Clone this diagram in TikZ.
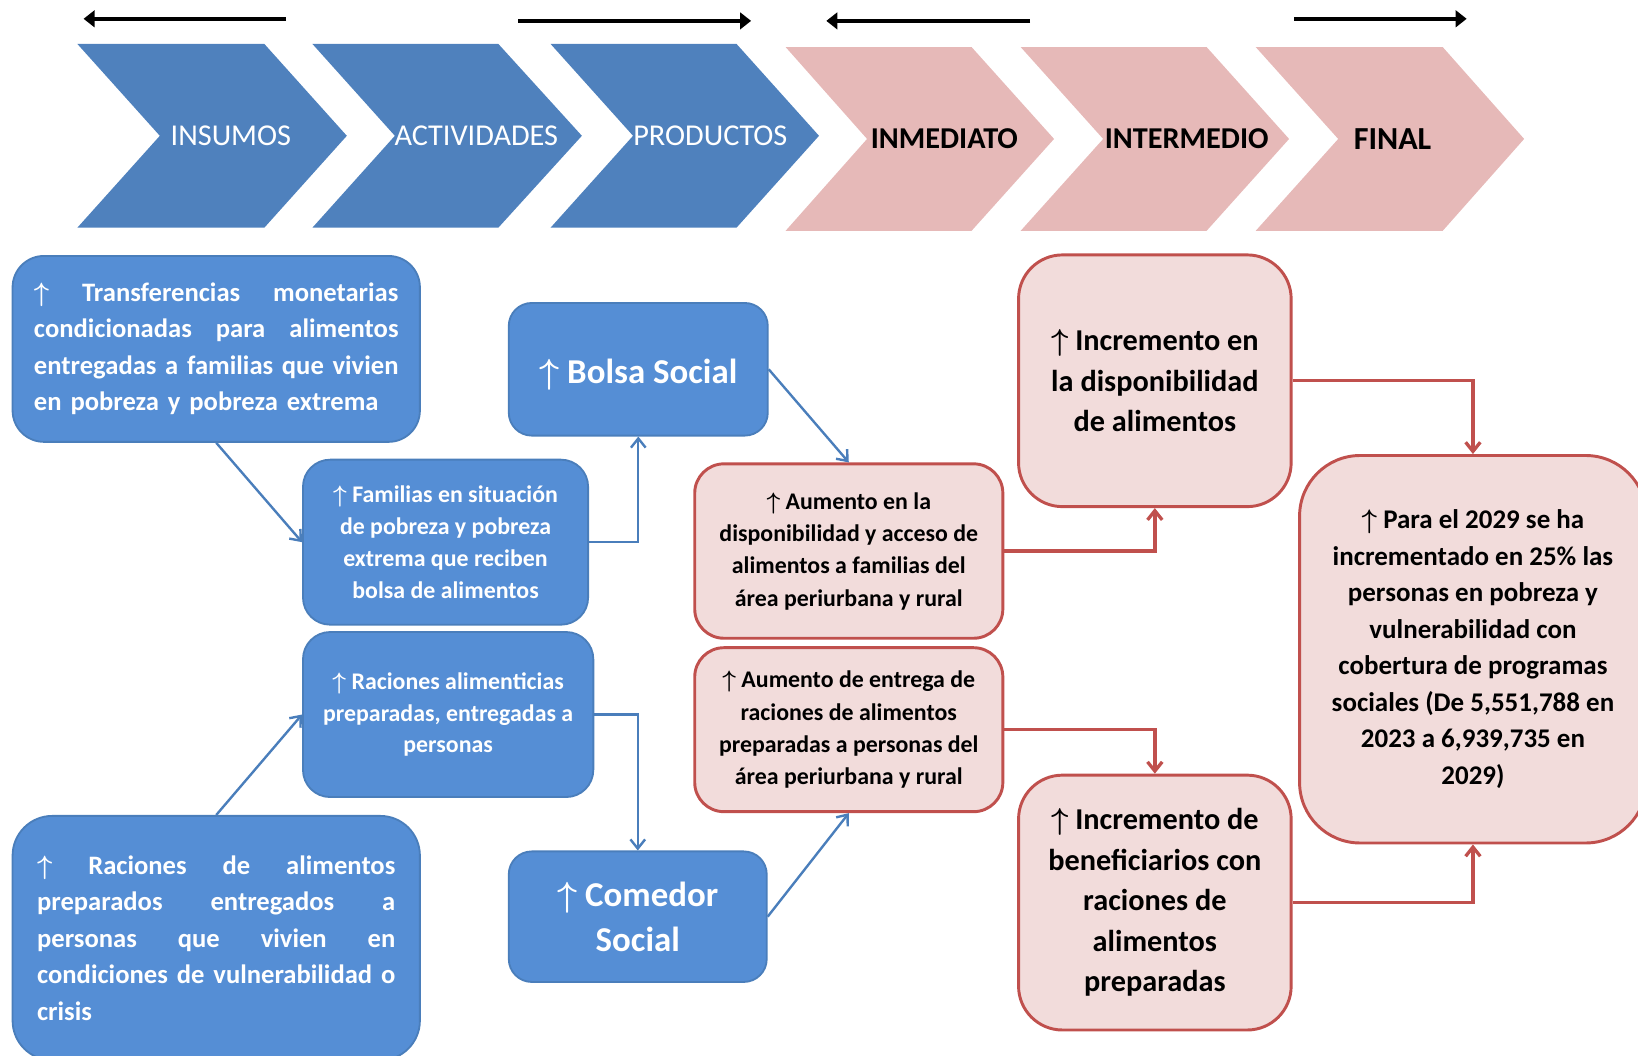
\RequirePackage{fix-cm}
\documentclass[tikz,border=0pt]{standalone}
\usepackage{fontspec}
\setmainfont{Carlito}
\usetikzlibrary{arrows.meta}

\definecolor{chevblue}{HTML}{4F81BD}
\definecolor{chevpink}{HTML}{E6B9B8}
\definecolor{boxblue}{HTML}{558ED5}
\definecolor{boxblueline}{HTML}{4A7EBB}
\definecolor{boxpink}{HTML}{F2DCDB}
\definecolor{boxred}{HTML}{C0504D}
\definecolor{linkblue}{HTML}{4A7EBB}

\newcommand{\fs}[2]{\fontsize{#1}{#2}\selectfont}
% justified line: words separated by \hfill
\newcommand{\jline}[2]{\leavevmode\hbox to #1{#2}}
\newcommand{\upmark}{{\boldmath$\uparrow$}}

\begin{document}
\begin{tikzpicture}[x=0.02cm, y=-0.02cm,
  bluebox/.style={draw=boxblueline, fill=boxblue, line width=1pt, text=white, inner sep=0pt, align=center},
  pinkbox/.style={draw=boxred, fill=boxpink, line width=1.6pt, text=black, inner sep=0pt, align=center},
  bluelink/.style={draw=linkblue, line width=1.3pt, -{Straight Barb[length=5pt,width=8pt]}},
  redlink/.style={draw=boxred, line width=1.8pt, -{Straight Barb[length=5pt,width=8pt]}},
  timeline/.style={line width=2.3pt, -{Triangle[length=6pt,width=9pt]}}]
\useasboundingbox (0,0) rectangle (1568,1010);

% direction arrows on top
\coordinate (t1a) at (274,18);  \coordinate (t1b) at (80,18);
\coordinate (t2a) at (496,20);  \coordinate (t2b) at (719,20);
\coordinate (t3a) at (986,20);  \coordinate (t3b) at (791,20);
\coordinate (t4a) at (1239,18); \coordinate (t4b) at (1404,18);
\draw [timeline] (t1a) -- (t1b);
\draw [timeline] (t2a) -- (t2b);
\draw [timeline] (t3a) -- (t3b);
\draw [timeline] (t4a) -- (t4b);

% chevrons
\fill [chevblue] (74,42) -- (253,42) -- (332,130) -- (253,218) -- (74,218) -- (153,130) -- cycle;
\fill [chevblue] (299,42) -- (477,42) -- (557,130) -- (477,218) -- (299,218) -- (378,130) -- cycle;
\fill [chevblue] (527,42) -- (705,42) -- (784,130) -- (705,218) -- (527,218) -- (606,130) -- cycle;
\fill [chevpink] (752,45) -- (930,45) -- (1009,133) -- (930,221) -- (752,221) -- (830,133) -- cycle;
\fill [chevpink] (977,45) -- (1155,45) -- (1234,133) -- (1155,221) -- (977,221) -- (1056,133) -- cycle;
\fill [chevpink] (1202,45) -- (1381,45) -- (1459,133) -- (1381,221) -- (1202,221) -- (1281,133) -- cycle;

\node [text=white, font=\fs{16.5}{20}] (insumos) at (221,130) {INSUMOS};
\node [text=white, font=\fs{16.5}{20}] (actividades) at (456,130) {ACTIVIDADES};
\node [text=white, font=\fs{16.5}{20}] (productos) at (680,130) {PRODUCTOS};
\node [font=\bfseries\fs{16.5}{20}] (inmediato) at (904,133) {INMEDIATO};
\node [font=\bfseries\fs{16.5}{20}] (intermedio) at (1136,133) {INTERMEDIO};
\node [font=\bfseries\fs{17.5}{20}] (final) at (1333,133) {FINAL};

% blue boxes
\node [bluebox, rounded corners=0.6cm, text width=6.98cm, inner xsep=0.41cm, minimum height=3.56cm, align=left, font=\bfseries\fs{14.5}{19.9}] (transfer) at (207,334)
  {\jline{6.98cm}{\upmark\hfill Transferencias\hfill monetarias}\\
   \jline{6.98cm}{condicionadas\hfill para\hfill alimentos}\\
   \jline{6.98cm}{entregadas\hfill a\hfill familias\hfill que\hfill vivien}\\
   en pobreza y pobreza extrema};
\node [bluebox, rounded corners=0.52cm, minimum width=5.46cm, minimum height=3.16cm, font=\bfseries\fs{13}{17.4}] (familias) at (426.5,519)
  {\upmark{} Familias en situación\\ de pobreza y pobreza\\ extrema que reciben\\ bolsa de alimentos};
\node [bluebox, rounded corners=0.44cm, minimum width=4.96cm, minimum height=2.54cm, font=\bfseries\fs{19}{23}] (bolsa) at (611,353.5)
  {\rule{0pt}{19pt}\upmark{} Bolsa Social};
\node [bluebox, rounded corners=0.52cm, minimum width=5.56cm, minimum height=3.16cm, font=\bfseries\fs{13}{17.4}] (racalim) at (429,684)
  {\upmark{} Raciones alimenticias\\ preparadas, entregadas a\\ personas};
\node [bluebox, rounded corners=0.76cm, text width=6.86cm, inner xsep=0.47cm, minimum height=4.68cm, align=left, font=\bfseries\fs{14.5}{19.9}] (racprep) at (207,898)
  {\jline{6.86cm}{\upmark\hfill Raciones\hfill de\hfill alimentos}\\
   \jline{6.86cm}{preparados\hfill entregados\hfill a}\\
   \jline{6.86cm}{personas\hfill que\hfill vivien\hfill en}\\
   \jline{6.86cm}{condiciones\hfill de\hfill vulnerabilidad\hfill o}\\
   crisis};
\node [bluebox, rounded corners=0.44cm, minimum width=4.94cm, minimum height=2.5cm, font=\bfseries\fs{19}{24.4}] (comedor) at (610.5,877.5)
  {\upmark{} Comedor\\ Social};

% pink boxes
\node [pinkbox, rounded corners=0.56cm, minimum width=5.9cm, minimum height=3.34cm, font=\bfseries\fs{13}{17.6}] (aumdisp) at (812.5,527.5)
  {\upmark{} Aumento en la\\ disponibilidad y acceso de\\ alimentos a familias del\\ área periurbana y rural};
\node [pinkbox, rounded corners=0.56cm, minimum width=5.9cm, minimum height=3.14cm, font=\bfseries\fs{13}{17.6}] (aument) at (812.5,698.5)
  {\upmark{} Aumento de entrega de\\ raciones de alimentos\\ preparadas a personas del\\ área periurbana y rural};
\node [pinkbox, rounded corners=0.84cm, minimum width=5.22cm, minimum height=4.82cm, font=\bfseries\fs{16.5}{22.1}] (incdisp) at (1105.5,364.5)
  {\upmark{} Incremento en\\ la disponibilidad\\ de alimentos};
\node [pinkbox, rounded corners=0.84cm, minimum width=5.22cm, minimum height=4.88cm, font=\bfseries\fs{16.5}{22.1}] (incben) at (1105.5,864)
  {\upmark{} Incremento de\\ beneficiarios con\\ raciones de\\ alimentos\\ preparadas};
\node [pinkbox, rounded corners=1.16cm, minimum width=6.64cm, minimum height=7.42cm, font=\bfseries\fs{14.7}{19.9}] (final2029) at (1410,621.5)
  {\upmark{} Para el 2029 se ha\\ incrementado en 25\% las\\ personas en pobreza y\\ vulnerabilidad con\\ cobertura de programas\\ sociales (De 5,551,788 en\\ 2023 a 6,939,735 en\\ 2029)};

% links
\draw [bluelink] (transfer.south) -- (familias.west);
\draw [bluelink] (familias.east) -| (bolsa.south);
\draw [bluelink] (bolsa.east) -- (aumdisp.north);
\draw [bluelink] (racprep.north) -- (racalim.west);
\draw [bluelink] (racalim.east) -| (comedor.north);
\draw [bluelink] (comedor.east) -- (aument.south);
\draw [redlink] (aumdisp.east) -| (incdisp.south);
\draw [redlink] (incdisp.east) -| (final2029.north);
\draw [redlink] (aument.east) -| (incben.north);
\draw [redlink] (incben.east) -| (final2029.south);
\end{tikzpicture}
\end{document}
